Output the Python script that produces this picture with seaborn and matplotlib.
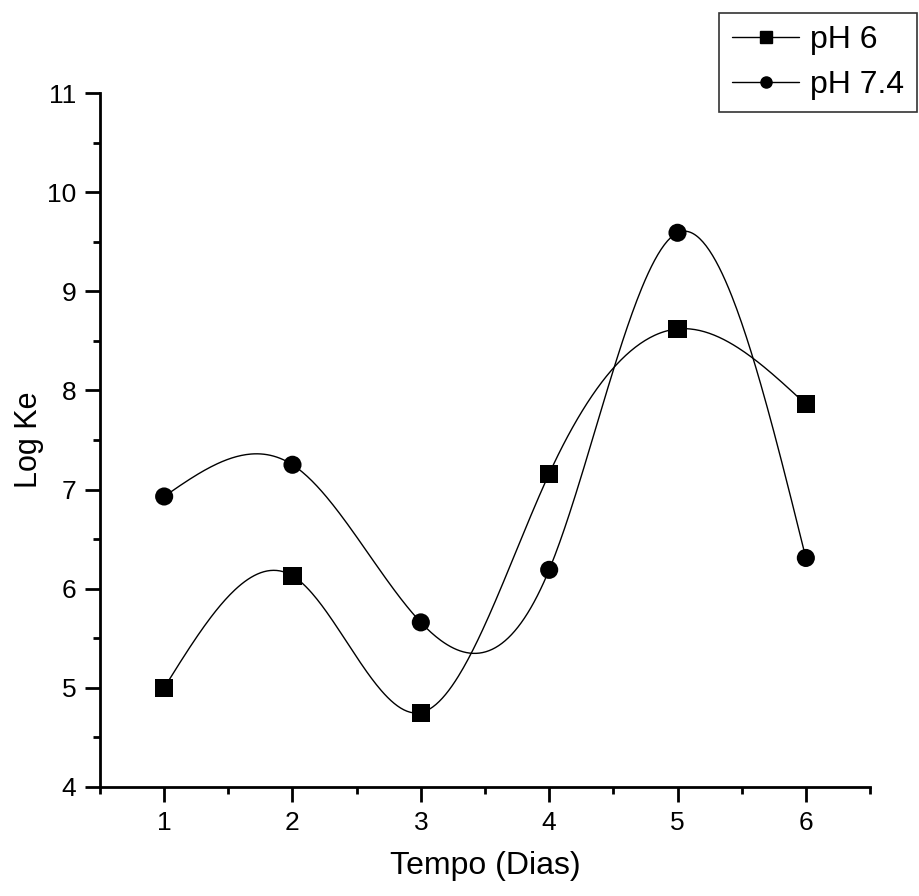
import numpy as np
import pandas as pd
import matplotlib
matplotlib.use("Agg")
import matplotlib.pyplot as plt
import seaborn as sns
from matplotlib.ticker import MultipleLocator
from matplotlib.lines import Line2D

days = [1, 2, 3, 4, 5, 6]
ph6 = [5.00, 6.13, 4.75, 7.16, 8.62, 7.86]
ph74 = [6.93, 7.25, 5.66, 6.19, 9.59, 6.31]
series_names = ["pH 6", "pH 7.4"]


def natural_spline(x, y, n=400):
    x = np.asarray(x, float)
    y = np.asarray(y, float)
    k = len(x)
    h = np.diff(x)
    A = np.zeros((k, k))
    b = np.zeros(k)
    A[0, 0] = 1
    A[-1, -1] = 1
    for i in range(1, k - 1):
        A[i, i - 1] = h[i - 1]
        A[i, i] = 2 * (h[i - 1] + h[i])
        A[i, i + 1] = h[i]
        b[i] = 3 * ((y[i + 1] - y[i]) / h[i] - (y[i] - y[i - 1]) / h[i - 1])
    c = np.linalg.solve(A, b)
    xs = np.linspace(x[0], x[-1], n)
    ys = np.empty_like(xs)
    for j, xv in enumerate(xs):
        i = min(np.searchsorted(x, xv, side="right") - 1, k - 2)
        dx = xv - x[i]
        bi = (y[i + 1] - y[i]) / h[i] - h[i] * (2 * c[i] + c[i + 1]) / 3
        di = (c[i + 1] - c[i]) / (3 * h[i])
        ys[j] = y[i] + bi * dx + c[i] * dx ** 2 + di * dx ** 3
    return xs, ys


sns.set_style("ticks")
plt.rcParams["font.family"] = ["Liberation Sans", "DejaVu Sans"]
for key in ["text.color", "axes.labelcolor", "xtick.color", "ytick.color",
            "axes.edgecolor"]:
    plt.rcParams[key] = "black"

fig = plt.figure(figsize=(9.19, 8.96), dpi=100)
ax = fig.add_axes([0.1088, 0.1217, 0.8379, 0.7745])

rows = []
for name, vals in zip(series_names, [ph6, ph74]):
    xs, ys = natural_spline(days, vals)
    for a, b in zip(xs, ys):
        rows.append({"x": a, "y": b, "s": name})
curve = pd.DataFrame(rows)
pts = pd.DataFrame({"x": days * 2, "y": ph6 + ph74,
                    "s": [series_names[0]] * 6 + [series_names[1]] * 6})

sns.lineplot(data=curve, x="x", y="y", hue="s", palette=["black", "black"],
             linewidth=1.0, ax=ax, legend=False, sort=False, estimator=None)
sns.scatterplot(data=pts, x="x", y="y", style="s", markers=["s", "o"],
                color="black", s=170, edgecolor="black", linewidth=0,
                ax=ax, legend=False, zorder=5)

ax.set_xlim(0.5, 6.5)
ax.set_ylim(4, 11)
ax.xaxis.set_major_locator(MultipleLocator(1))
ax.xaxis.set_minor_locator(MultipleLocator(0.5))
ax.yaxis.set_major_locator(MultipleLocator(1))
ax.yaxis.set_minor_locator(MultipleLocator(0.5))
ax.tick_params(which="major", length=11, width=2, direction="out",
               labelsize=19, pad=6, colors="black")
ax.tick_params(which="minor", length=5, width=2, direction="out",
               colors="black")
for sp in ["top", "right"]:
    ax.spines[sp].set_visible(False)
for sp in ["left", "bottom"]:
    ax.spines[sp].set_linewidth(2)
    ax.spines[sp].set_color("black")
ax.set_xlabel("Tempo (Dias)", fontsize=23, labelpad=12)
ax.set_ylabel("Log Ke", fontsize=22, labelpad=2)

handles = [Line2D([], [], color="black", lw=1, marker="s", markersize=8),
           Line2D([], [], color="black", lw=1, marker="o", markersize=8)]
leg = fig.legend(handles, series_names, loc="upper right",
                 bbox_to_anchor=(0.998, 0.986), fontsize=23, frameon=True,
                 fancybox=False, edgecolor="black", handlelength=2.1,
                 handletextpad=0.35, borderpad=0.4, labelspacing=0.45,
                 borderaxespad=0)
leg.get_frame().set_linewidth(1.2)

fig.savefig("out.png", dpi=100, facecolor="white")
